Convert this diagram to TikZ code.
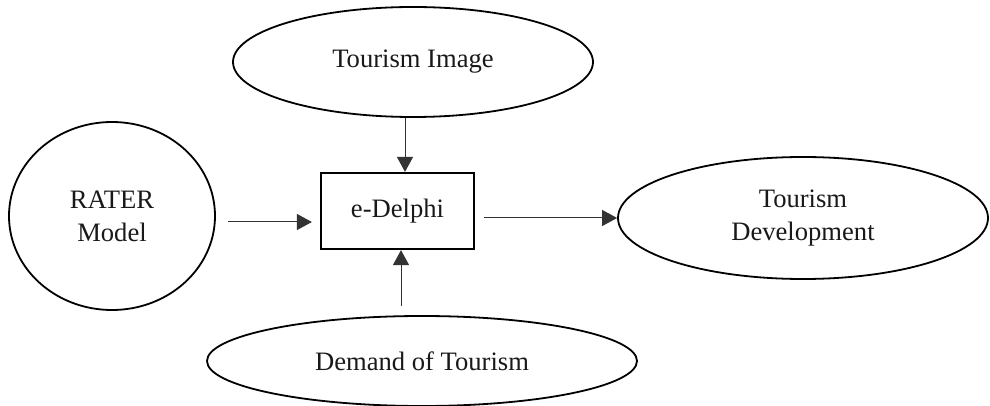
\documentclass[tikz,border=0pt]{standalone}
\usepackage{fontspec}
\setmainfont{Liberation Serif}
\usetikzlibrary{shapes.geometric,arrows.meta}
\begin{document}
\begin{tikzpicture}[x=0.5pt,y=-0.5pt, font=\fontsize{13.3}{16.5}\selectfont,
       factor/.style={ellipse,draw,line width=0.9pt,inner sep=0pt,align=center,text=black!90},
       method/.style={rectangle,draw,line width=1.1pt,minimum width=76.5pt,minimum height=38pt,text=black!90},
       arr/.style={-{Triangle[length=7.5pt,width=8pt]},line width=0.5pt,draw=black!80}]
       \useasboundingbox (0,0) rectangle (990,406);
       \node[factor,minimum width=180pt,minimum height=55pt] (img) at (413,62) {Tourism Image};
       \node[factor,minimum width=103pt,minimum height=94pt] (rater) at (112,216) {RATER\\Model};
       \node[method] (box) at (397.5,211) {e-Delphi};
       \node[factor,minimum width=185pt,minimum height=61pt] (dev) at (803,218) {Tourism\\Development};
       \node[factor,minimum width=215pt,minimum height=45pt] (dem) at (422,361) {Demand of Tourism};

       \draw[arr] (img.south -| 405,0) -- (box.north -| 405,0);
       \draw[arr,shorten <=4.5pt] (dem.north -| 401,0) -- (box.south -| 401,0);
       \draw[arr,shorten <=6pt,shorten >=4pt] (rater.east |- 0,222) -- (box.west |- 0,222);
       \draw[arr,shorten <=4.5pt] (box.east |- dev.west) -- (dev.west);
     \end{tikzpicture}
\end{document}
